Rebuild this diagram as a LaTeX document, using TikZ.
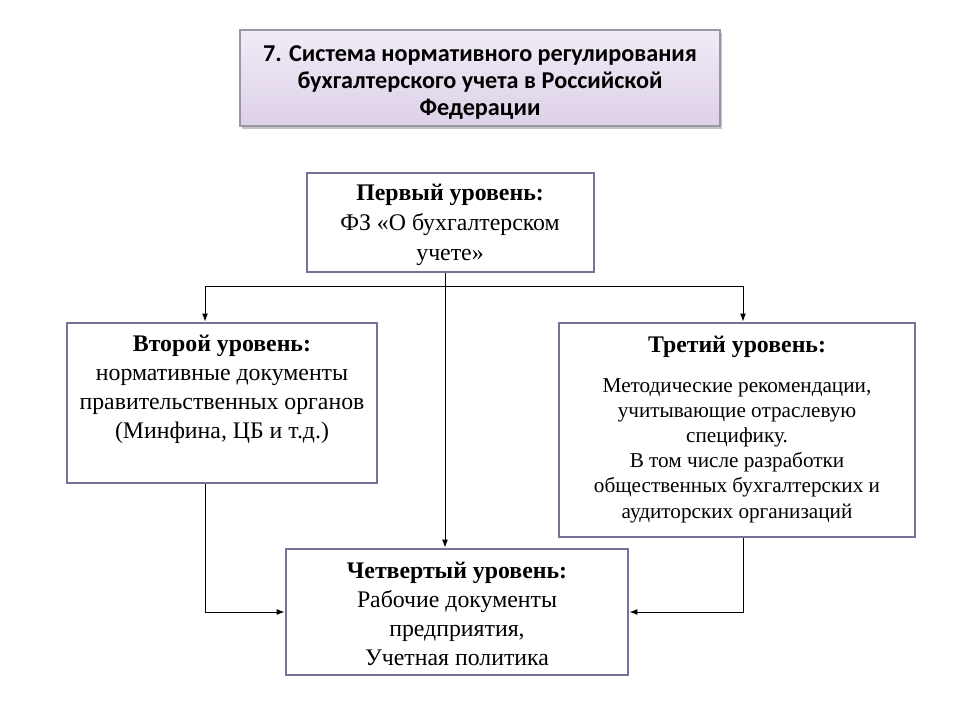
\documentclass[tikz,border=0pt]{standalone}
\usepackage{fontspec}
\setmainfont{Liberation Serif}
\newfontfamily\titlefont{Carlito}
\usetikzlibrary{arrows.meta,shadows}
\definecolor{boxline}{HTML}{7B6E98}
\definecolor{titleline}{HTML}{9C95A8}
\definecolor{titletop}{HTML}{F1EBF6}
\definecolor{titlebot}{HTML}{DDD1E8}
\begin{document}
\begin{tikzpicture}[x=1pt,y=-1pt,
  levelbox/.style={draw=boxline,line width=2.9pt,fill=white,inner sep=0pt},
  lvltext/.style={align=center,inner sep=0pt,anchor=base,font=\fontsize{23.8}{29}\selectfont},
  lvlsmall/.style={align=center,inner sep=0pt,anchor=base,font=\fontsize{21.2}{25.2}\selectfont},
  conn/.style={line width=1pt,-{Latex[length=8pt,width=6pt]}},
  plain/.style={line width=1pt}]
\useasboundingbox (0,0) rectangle (960,720);
\fill[white] (0,0) rectangle (960,720);
% title
\node[draw=titleline,line width=1.5pt,top color=titletop,bottom color=titlebot,
  minimum width=480pt,minimum height=96pt,inner sep=0pt,
  drop shadow={shadow xshift=2pt,shadow yshift=-3pt,opacity=0.45}] (title) at (480,78) {};
\node[align=center,inner sep=0pt,anchor=base,font=\titlefont\bfseries\fontsize{24.2}{26.7}\selectfont] (titletext) at (480,115)
  {7. Система нормативного регулирования\\бухгалтерского учета в Российской\\Федерации};
% boxes
\node[levelbox,minimum width=287pt,minimum height=99pt] (b1) at (450.5,222.5) {};
\node[levelbox,minimum width=310pt,minimum height=160pt] (b2) at (222,403) {};
\node[levelbox,minimum width=356pt,minimum height=214pt] (b3) at (737,430) {};
\node[levelbox,minimum width=342pt,minimum height=126pt] (b4) at (457,612) {};
% texts
\node[lvltext,font=\fontsize{23.8}{30}\selectfont] (t1) at (450,260) {\textbf{Первый уровень:}\\ФЗ «О бухгалтерском\\учете»};
\node[lvltext] (t2) at (222,438) {\textbf{Второй уровень:}\\нормативные документы\\правительственных органов\\(Минфина, ЦБ и т.д.)};
\node[lvltext] (t3h) at (737,352) {\textbf{Третий уровень:}};
\node[lvlsmall] (t3) at (737,518) {Методические рекомендации,\\учитывающие отраслевую\\специфику.\\В том числе разработки\\общественных бухгалтерских и\\аудиторских организаций};
\node[lvltext] (t4) at (457,665) {\textbf{Четвертый уровень:}\\Рабочие документы\\предприятия,\\Учетная политика};
% connectors
\coordinate (jn) at (445,286);
\draw[conn] (b1.south -| jn) -- (b4.north -| jn);
\draw[plain] (205,286) -- (743,286);
\draw[conn] (205,286) -- (b2.north -| 205,0);
\draw[conn] (743,286) -- (b3.north -| 743,0);
\draw[conn] (b2.south -| 205,0) |- (b4.west);
\draw[conn] (b3.south -| 743,0) |- (b4.east);
\end{tikzpicture}
\end{document}
